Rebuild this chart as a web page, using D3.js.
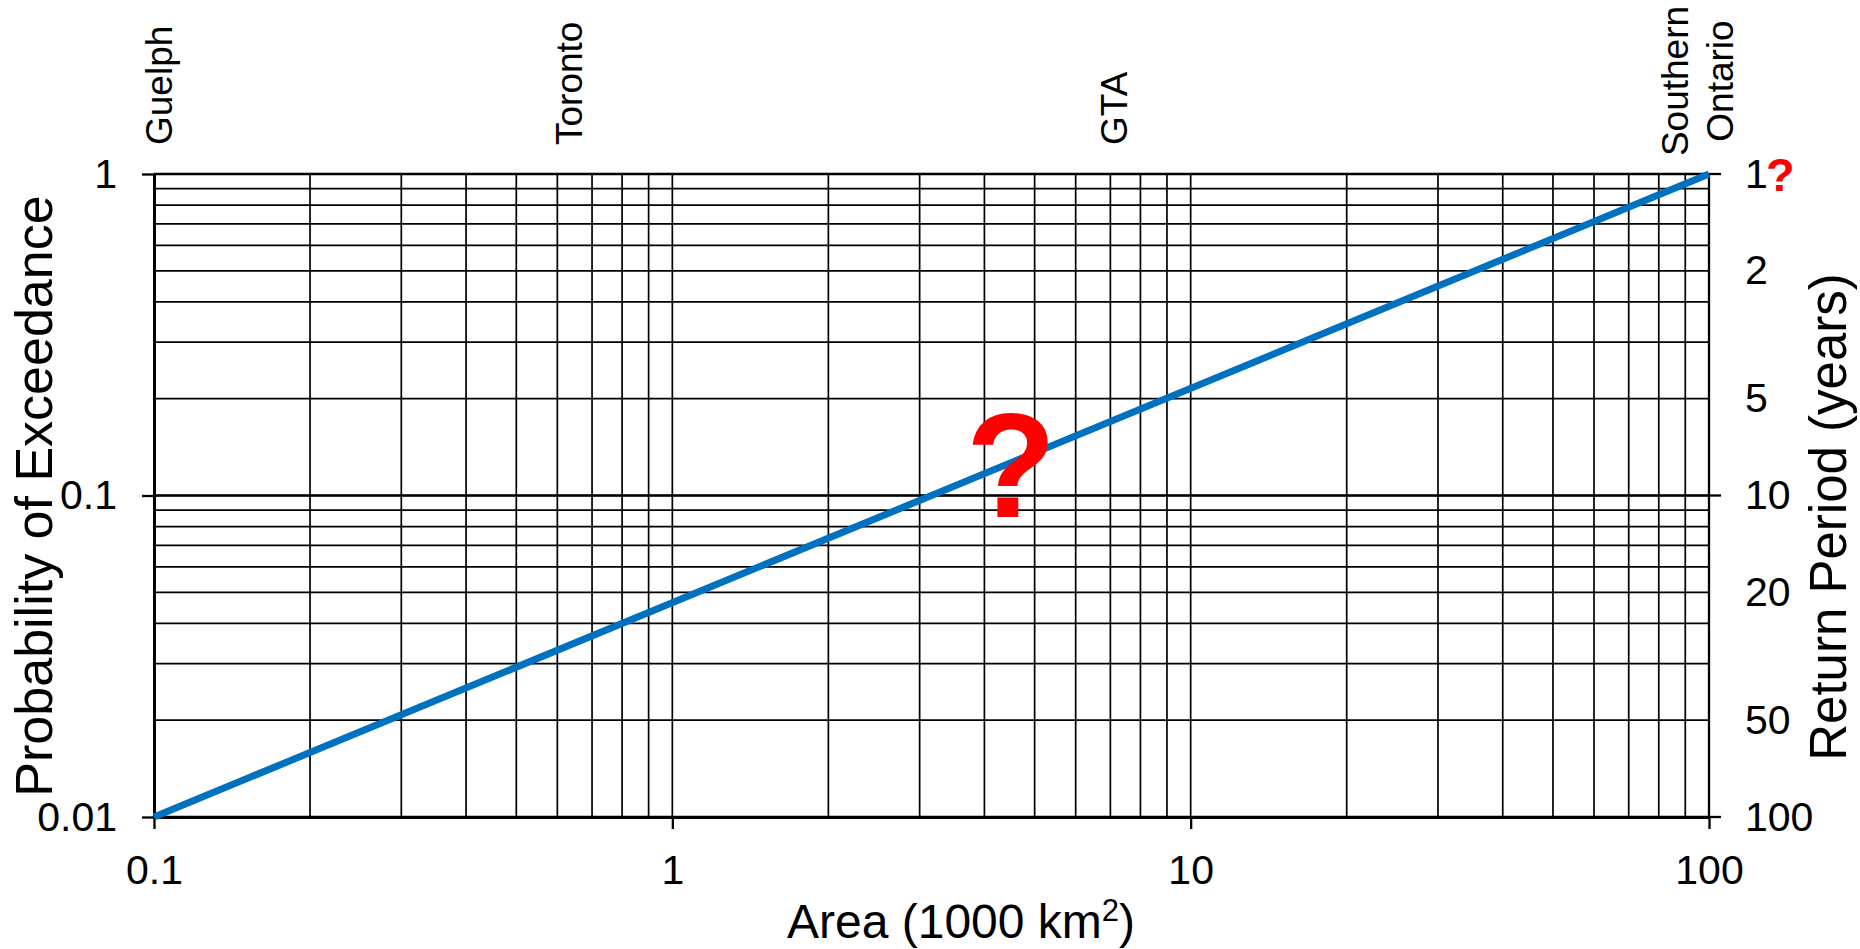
<!DOCTYPE html>
<html>
<head>
<meta charset="utf-8">
<script src="https://cdn.jsdelivr.net/npm/d3@7"></script>
<style>
  html, body { margin: 0; padding: 0; background: #fff; }
  svg { display: block; }
  text { font-family: "Liberation Sans", Arial, Helvetica, sans-serif; fill: #000; }
</style>
</head>
<body>
<svg id="chart" width="1860" height="949"></svg>
<script>
// Exceedance curve (log-log straight line)
const curveArea = [0.1, 100];        // area, 1000 km^2
const curveProb = [0.01, 1];         // probability of exceedance

// Axis ticks
const areaTicks = [0.1, 1, 10, 100];
const areaTickLabels = ["0.1", "1", "10", "100"];
const probTicks = [0.01, 0.1, 1];
const probTickLabels = ["0.01", "0.1", "1"];
const returnPeriods = [1, 2, 5, 10, 20, 50, 100];
const returnLabels = ["1", "2", "5", "10", "20", "50", "100"];

// Reference regions along the area axis
const placeNames = [["Guelph"], ["Toronto"], ["GTA"], ["Southern", "Ontario"]];
const placeAreas = [0.102, 0.63, 7.1, 95];

(function draw() {
  const font = '"Liberation Sans", Arial, Helvetica, sans-serif';
  const plotL = 154, plotR = 1709, plotT = 174, plotB = 817;

  const svg = d3.select("#chart");

  const x = d3.scaleLog().domain([0.1, 100]).range([plotL, plotR]);
  const y = d3.scaleLog().domain([0.01, 1]).range([plotB, plotT]);
  const yT = d3.scaleLog().domain([1, 100]).range([plotT, plotB]);

  // Grid
  const grid = svg.append("g").attr("stroke", "#000").attr("stroke-width", 1.7);
  grid.selectAll("line.v").data(x.ticks()).join("line")
    .attr("class", "v")
    .attr("x1", d => x(d)).attr("x2", d => x(d))
    .attr("y1", plotT).attr("y2", plotB);
  grid.selectAll("line.h").data(y.ticks()).join("line")
    .attr("class", "h")
    .attr("x1", plotL).attr("x2", plotR)
    .attr("y1", d => y(d)).attr("y2", d => y(d));
  // slightly heavier decade lines
  grid.selectAll("line.hm").data(probTicks).join("line")
    .attr("class", "hm").attr("stroke-width", 2.3)
    .attr("x1", plotL).attr("x2", plotR)
    .attr("y1", d => y(d)).attr("y2", d => y(d));
  grid.append("line").attr("x1", plotR).attr("x2", plotR)
    .attr("y1", plotT).attr("y2", plotB).attr("stroke-width", 2.3);

  // Axes
  const xAxis = svg.append("g").attr("transform", `translate(0,${plotB})`)
    .call(d3.axisBottom(x).tickValues(areaTicks)
      .tickFormat((d, i) => areaTickLabels[i]).tickSize(12).tickSizeOuter(0).tickPadding(26));
  const yAxis = svg.append("g").attr("transform", `translate(${plotL},0)`)
    .call(d3.axisLeft(y).tickValues(probTicks)
      .tickFormat((d, i) => probTickLabels[i]).tickSize(12).tickSizeOuter(0).tickPadding(25));
  const rAxis = svg.append("g").attr("transform", `translate(${plotR},0)`)
    .call(d3.axisRight(yT).tickValues(returnPeriods)
      .tickFormat((d, i) => returnLabels[i]).tickSize(0).tickSizeOuter(0).tickPadding(36));
  rAxis.select(".domain").remove();
  svg.append("g").selectAll("line").data(probTicks).join("line")
    .attr("x1", plotR).attr("x2", plotR + 12)
    .attr("y1", d => y(d)).attr("y2", d => y(d))
    .attr("stroke", "#000").attr("stroke-width", 2.3);

  [xAxis, yAxis, rAxis].forEach(g => {
    g.selectAll(".domain").attr("stroke", "#000").attr("stroke-width", 3);
    g.selectAll(".tick line").attr("stroke", "#000").attr("stroke-width", 2.3);
    g.selectAll(".tick text").attr("font-family", font).attr("font-size", 41).attr("fill", "#000");
  });

  // Exceedance line
  const pts = curveArea.map((a, i) => [a, curveProb[i]]);
  svg.append("path")
    .datum(pts)
    .attr("d", d3.line().x(d => x(d[0])).y(d => y(d[1])))
    .attr("fill", "none")
    .attr("stroke", "#0070C0")
    .attr("stroke-width", 7);

  // Axis titles
  svg.append("text")
    .attr("transform", "translate(52,496) rotate(-90)")
    .attr("text-anchor", "middle")
    .attr("font-size", 52)
    .text("Probability of Exceedance");

  svg.append("text")
    .attr("transform", "translate(1846,517) rotate(-90)")
    .attr("text-anchor", "middle")
    .attr("font-size", 51)
    .text("Return Period (years)");

  const xt = svg.append("text")
    .attr("x", 961).attr("y", 938)
    .attr("text-anchor", "middle")
    .attr("font-size", 48);
  xt.append("tspan").text("Area (1000 km");
  xt.append("tspan").attr("font-size", 31).attr("dy", -17).text("2");
  xt.append("tspan").attr("dy", 17).text(")");

  // Region labels above the plot
  const lab = svg.append("g").attr("font-size", 37);
  placeNames.forEach((lines, i) => {
    const cx = x(placeAreas[i]);
    if (lines.length === 1) {
      lab.append("text")
        .attr("transform", `translate(${cx + 13.2},145) rotate(-90)`)
        .attr("text-anchor", "start")
        .text(lines[0]);
    } else {
      const step = 44.5;
      lines.forEach((t, j) => {
        const bx = cx + 13.2 + (j - (lines.length - 1) / 2) * step;
        lab.append("text")
          .attr("transform", `translate(${bx},81) rotate(-90)`)
          .attr("text-anchor", "middle")
          .text(t);
      });
    }
  });

  // Question marks
  svg.append("text")
    .attr("x", 1011).attr("y", 517)
    .attr("text-anchor", "middle")
    .attr("font-size", 148).attr("font-weight", "bold")
    .style("fill", "#FF0000")
    .text("?");
  svg.append("text")
    .attr("x", 1766).attr("y", 191)
    .attr("font-size", 47).attr("font-weight", "bold")
    .style("fill", "#FF0000")
    .text("?");
})();
</script>
</body>
</html>
